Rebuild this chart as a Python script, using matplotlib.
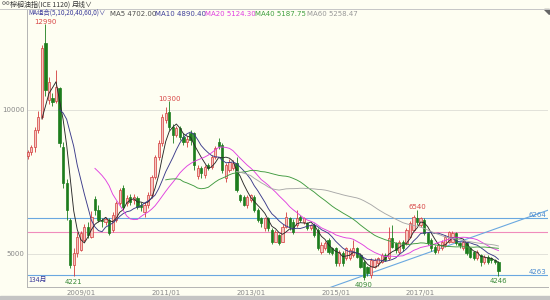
import matplotlib
matplotlib.use('Agg')
import matplotlib.pyplot as plt
import matplotlib.patches as mpatches
import numpy as np
import pandas as pd

plt.rcParams['font.family'] = ['Noto Sans CJK SC', 'DejaVu Sans']

# ---------------- data (monthly, 2007/10 .. 2018/11) ----------------
start_month = '2007-10'
opens = [8400, 8530, 8720, 9300, 9770, 12320, 10350, 10420, 10300, 10750,
         8720, 7450, 6180, 4620, 5030, 5150, 5490, 5950, 5600, 6900,
         6530, 6180, 6100, 6180, 5830, 6180, 6760, 7280, 6760, 6990,
         6875, 6930, 6700, 6470, 6700, 7050, 7680, 8380, 8840, 9650,
         9940, 9420, 9130, 9360, 9070, 8900, 9190, 9190, 7700, 7970,
         7740, 8090, 8030, 8380, 8900, 8780, 7630, 7920, 8000, 8150,
         7050, 6990, 6700, 6870, 6990, 6530, 6240, 5890, 6240, 5830,
         5430, 5660, 5430, 5950, 6240, 6120, 5990, 6300, 6120, 6060,
         5890, 6000, 5830, 5080, 5200, 5480, 5200, 5200, 4680, 5020,
         4850, 4850, 4970, 5200, 4970, 4730, 4560, 4270, 4560, 4680,
         4730, 4970, 4850, 5540, 5370, 5080, 5430, 5370, 5600, 5830,
         6240, 6010, 6180, 5720, 5490, 5250, 5140, 5200, 5310, 5430,
         5430, 5720, 5370, 5200, 5370, 5200, 5080, 4850, 4970, 4730,
         4910, 4850, 4790, 4730]
highs = [8600, 8800, 9420, 9950, 12250, 12990, 11150, 10600, 11380, 10800,
         8900, 7600, 6250, 5200, 5750, 5800, 6050, 6100, 6500, 7000,
         6700, 6250, 6300, 6250, 6450, 6850, 7300, 7400, 7050, 7100,
         7100, 7000, 6800, 6800, 7150, 7750, 8450, 8950, 9850, 10100,
         10300, 9500, 9450, 9450, 9200, 9100, 9300, 9250, 8100, 8050,
         8100, 8150, 8450, 8750, 9030, 8850, 8150, 8300, 8250, 8380,
         7100, 7050, 7050, 7100, 7050, 6600, 6300, 6300, 6300, 5900,
         5850, 5700, 6050, 6450, 6300, 6200, 6520, 6350, 6300, 6100,
         6050, 6060, 5900, 5400, 5450, 5550, 5250, 5250, 5150, 5100,
         5250, 5200, 5480, 5250, 5000, 4800, 4600, 4850, 4850, 4900,
         5050, 5050, 5950, 6000, 5400, 5500, 5500, 5900, 6150, 6350,
         6540, 6300, 6250, 5780, 5550, 5300, 5380, 5480, 5650, 5800,
         5800, 5760, 5400, 5480, 5400, 5250, 5100, 5150, 5000, 4980,
         4950, 4900, 4820, 4760]
lows = [8300, 8450, 8550, 9200, 9700, 10500, 10200, 10150, 10250, 8700,
        7300, 6180, 4500, 4221, 4900, 5100, 5400, 5550, 5550, 6350,
        6100, 5950, 6000, 5650, 5750, 6100, 6700, 6550, 6650, 6700,
        6750, 6550, 6500, 6300, 6600, 6950, 7600, 8250, 8750, 9550,
        9300, 8850, 9050, 8950, 8800, 8700, 8800, 7900, 7600, 7650,
        7650, 7900, 7950, 8300, 8650, 7800, 7500, 7850, 7900, 7160,
        6800, 6650, 6600, 6800, 6450, 6100, 5950, 5800, 5800, 5350,
        5400, 5300, 5400, 5900, 5850, 5700, 5950, 6100, 6050, 5850,
        5850, 5600, 5150, 5000, 5150, 5000, 4950, 4600, 4600, 4600,
        4800, 4800, 4900, 4850, 4500, 4090, 4250, 4150, 4500, 4600,
        4700, 4750, 4800, 5200, 5050, 5000, 5100, 5300, 5550, 5800,
        6000, 5950, 5650, 5300, 5100, 5000, 5050, 5150, 5250, 5380,
        5400, 5300, 5200, 5150, 4950, 4850, 4800, 4800, 4600, 4650,
        4650, 4700, 4650, 4246]
closes = [8530, 8720, 9300, 9760, 12140, 10700, 10980, 10280, 10800, 8850,
          7450, 6530, 4620, 5030, 5600, 5720, 5950, 5650, 6300, 6530,
          6180, 6150, 6200, 5720, 6350, 6760, 7220, 6640, 6930, 6820,
          6990, 6640, 6640, 6700, 7050, 7680, 8380, 8840, 9770, 9880,
          9420, 9130, 9360, 9070, 8900, 9000, 8950, 8090, 7970, 7800,
          8030, 7970, 8380, 8670, 8750, 7920, 8090, 8200, 8150, 7220,
          6870, 6700, 6990, 7050, 6530, 6180, 6060, 6240, 5890, 5430,
          5780, 5370, 5950, 6300, 5950, 5770, 6240, 6180, 6240, 5890,
          6000, 5650, 5200, 5310, 5370, 5080, 5020, 4680, 5080, 4680,
          5200, 5140, 5200, 4910, 4560, 4210, 4330, 4790, 4790, 4850,
          4970, 4790, 5540, 5250, 5140, 5430, 5200, 5830, 6060, 6300,
          6120, 6240, 5720, 5370, 5200, 5080, 5310, 5430, 5600, 5780,
          5720, 5370, 5310, 5430, 5020, 4910, 4850, 5080, 4730, 4910,
          4730, 4790, 4730, 4400]

ma_periods = [5, 10, 20, 40, 60]
ma_colors = ['#2a2a2a', '#3a3a8a', '#e040e0', '#3f9a3f', '#a8a8a8']
ma_legend_text = ['MA5 4702.00', 'MA10 4890.40', 'MA20 5124.30', 'MA40 5187.75', 'MA60 5258.47']
ma_legend_colors = ['#505050', '#40409a', '#e040e0', '#40a040', '#999999']

ytick_values = [5000, 10000]
xtick_labels = ['2009/01', '2011/01', '2013/01', '2015/01', '2017/01']

peak_idx = [5, 40, 110]
trough_idx = [13, 95, 133]

hline_blue = [6264, 4263]
hline_pink = [5760]
trend_months = [94, 147]
trend_prices = [4210, 6520]

# ---------------- figure ----------------
bg = '#fefef2'
W, H = 550, 300
fig = plt.figure(figsize=(5.5, 3.0), dpi=100, facecolor=bg)
ax = fig.add_axes([27 / W, 13 / H, 521 / W, 278 / H])
ax.set_facecolor(bg)

n = len(closes)
x = np.arange(n)
o = np.array(opens, float); c = np.array(closes, float)
h = np.array(highs, float); l = np.array(lows, float)
up = c >= o

up_face, up_edge = '#f6c6c0', '#d23c3c'
dn_col = '#1d7d1d'

# gridlines
for v in ytick_values:
    ax.axhline(v, color='#e2e2da', lw=0.7, zorder=0)

# wicks
ax.vlines(x[up], l[up], h[up], color=up_edge, lw=0.6, zorder=2)
ax.vlines(x[~up], l[~up], h[~up], color=dn_col, lw=0.6, zorder=2)
# bodies
bw = 0.62
body_h = np.maximum(np.abs(c - o), 25)
ax.bar(x[up], body_h[up], bottom=np.minimum(o, c)[up], width=bw,
       color=up_face, edgecolor=up_edge, linewidth=0.5, zorder=3)
ax.bar(x[~up], body_h[~up], bottom=np.minimum(o, c)[~up], width=bw,
       color=dn_col, edgecolor=dn_col, linewidth=0.5, zorder=3)

# moving averages
s = pd.Series(c)
for p, col in zip(ma_periods, ma_colors):
    ax.plot(x, s.rolling(p).mean(), color=col, lw=0.65, zorder=4)

# horizontal / trend lines
for v in hline_blue:
    ax.axhline(v, color='#6aa8e0', lw=0.8, zorder=1)
    ax.text(0.997, v, str(v), transform=ax.get_yaxis_transform(), ha='right',
            va='bottom', fontsize=5, color='#4a8ad0', family='DejaVu Sans')
for v in hline_pink:
    ax.axhline(v, color='#f08cbc', lw=0.8, zorder=1)
slope = (trend_prices[1] - trend_prices[0]) / (trend_months[1] - trend_months[0])
ax.plot([trend_months[0] - 20, trend_months[1]],
        [trend_prices[0] - 20 * slope, trend_prices[1]], color='#6aa8e0', lw=0.8, zorder=1)

# extreme labels
for i in peak_idx:
    ax.annotate(str(int(h[i])), (x[i], h[i]), xytext=(0, -0.5), textcoords='offset points',
                ha='center', va='bottom', fontsize=5, color='#d84848', family='DejaVu Sans')
for i in trough_idx:
    ax.annotate(str(int(l[i])), (x[i], l[i]), xytext=(0, -1.5), textcoords='offset points',
                ha='center', va='top', fontsize=5, color='#3a8a3a', family='DejaVu Sans')

# axes
ax.set_xlim(-0.2, 147.0)
ax.set_ylim(3854, 13506)
months = pd.period_range(start_month, periods=n, freq='M')
labels_all = [f'{p.year}/{p.month:02d}' for p in months]
xt = [labels_all.index(t) for t in xtick_labels]
ax.set_xticks(xt)
ax.set_xticklabels(xtick_labels)
ax.set_yticks(ytick_values)
ax.set_yticklabels([str(v) for v in ytick_values])
ax.tick_params(axis='both', length=0, labelsize=5, labelcolor='#888888', pad=2)
for t in ax.get_xticklabels() + ax.get_yticklabels():
    t.set_family('DejaVu Sans')
for sp in ax.spines.values():
    sp.set_color('#b4b4b4')
    sp.set_linewidth(0.7)
ax.spines['right'].set_visible(False)

ax.text(0.003, 0.012, f'{n}月', transform=ax.transAxes, fontsize=5, color='#3a3a9a',
        ha='left', va='bottom')

# header texts
def ftxt(px, py, s, **kw):
    fig.text(px / W, 1 - py / H, s, va='center', ha='left', **kw)

ftxt(2, 4.5, '∞', fontsize=5.5, color='#555555')
ftxt(10, 4.5, '棕榈油指(ICE 1120)', fontsize=5, color='#333333')
ftxt(72, 4.5, '月线∨', fontsize=5, color='#333333')
ftxt(28, 13.5, 'MA组合(5,10,20,40,60,0)∨', fontsize=4.6, color='#3a3a9a')
leg_x = [110, 155, 205, 255, 307]
for px, t, col in zip(leg_x, ma_legend_text, ma_legend_colors):
    ftxt(px, 13.5, t, fontsize=5, color=col, family='DejaVu Sans')

# top line and bottom bar
fig.add_artist(plt.Line2D([0, 1], [1 - 8.5 / H, 1 - 8.5 / H], transform=fig.transFigure,
                          color='#c8c8c8', lw=0.7))
fig.add_artist(mpatches.Rectangle((0, 0), 1, 4 / H, transform=fig.transFigure,
                                  color='#c4c4c4', zorder=0))
fig.add_artist(mpatches.Polygon([[544 / W, 1 - 9 / H], [549 / W, 1 - 9 / H], [549 / W, 1 - 14 / H]],
                                closed=True, transform=fig.transFigure, color='#666666'))

fig.savefig('out.png', dpi=100, facecolor=bg)
